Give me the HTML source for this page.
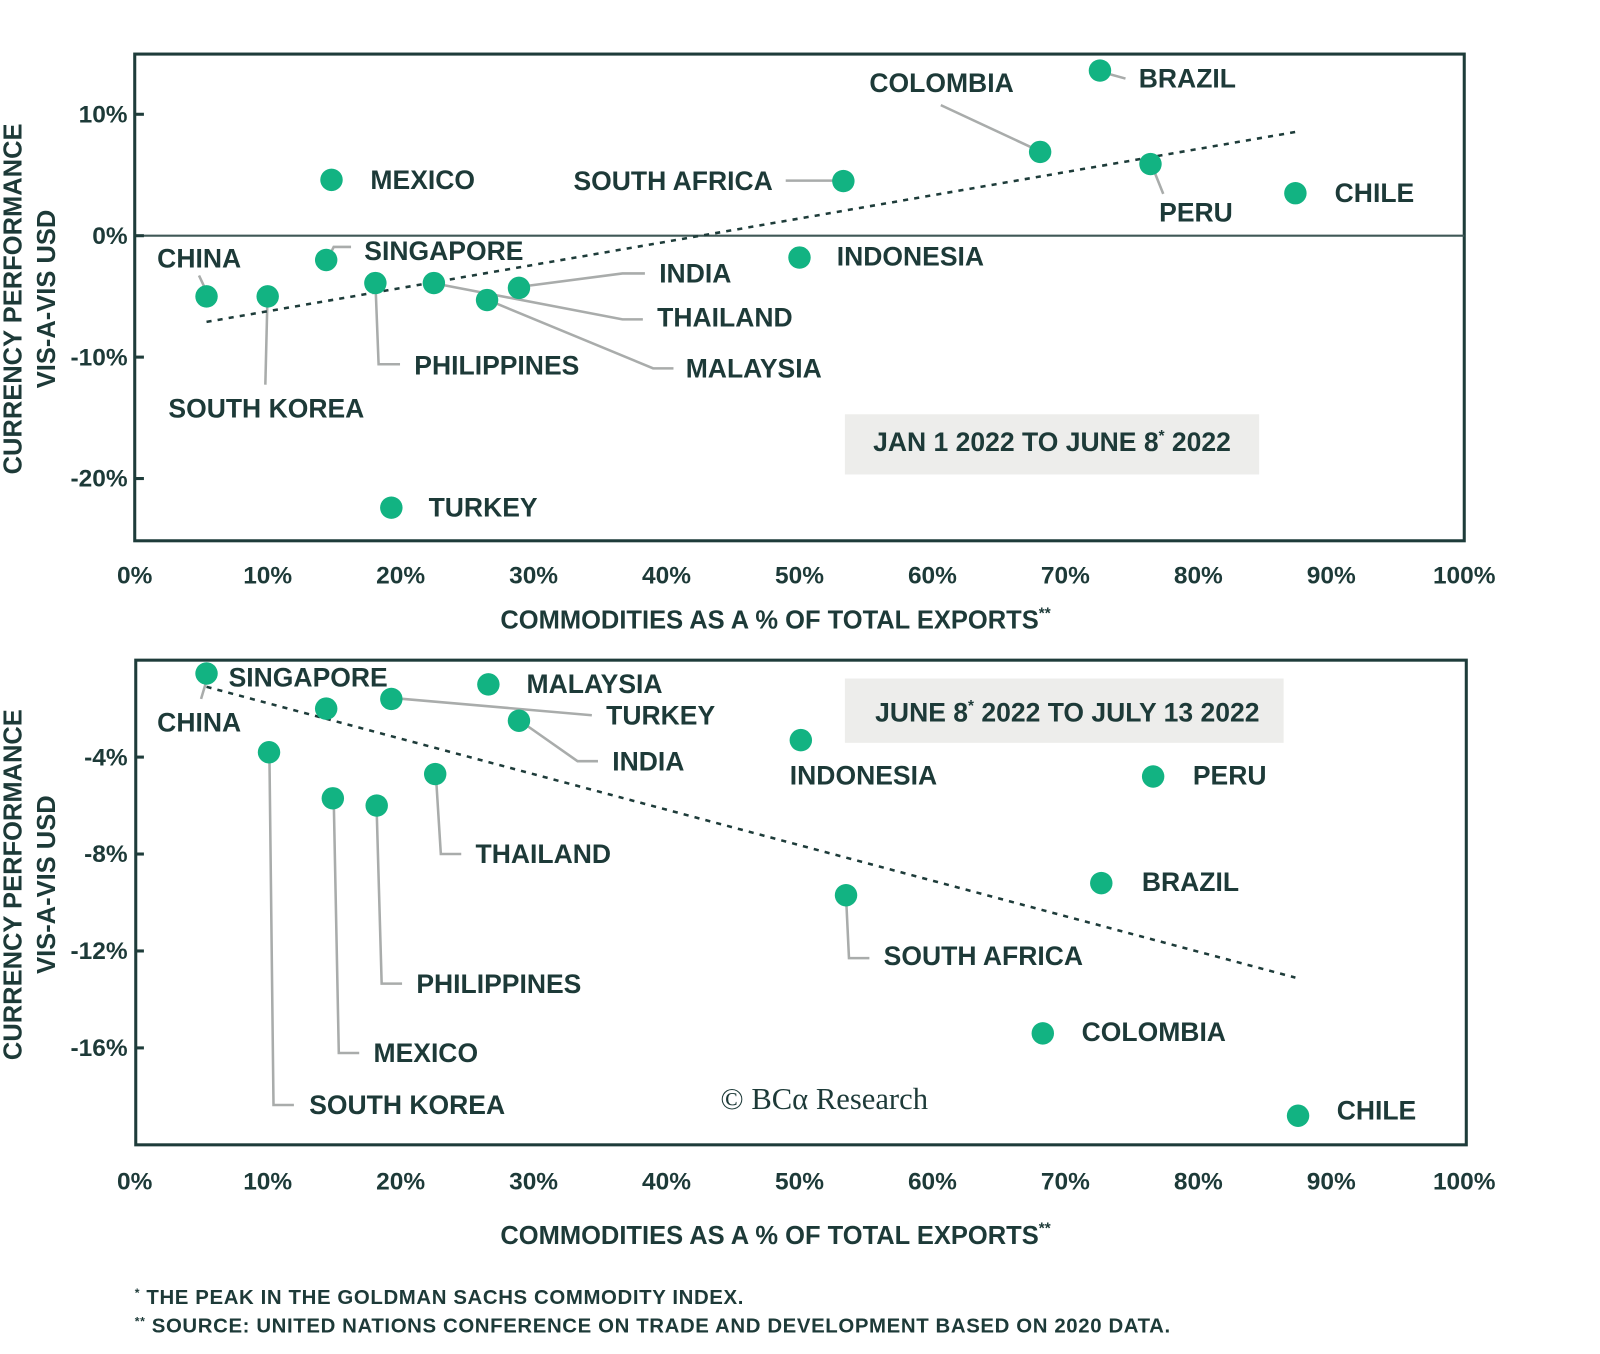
<!DOCTYPE html>
<html><head><meta charset="utf-8"><style>
html,body{margin:0;padding:0;background:#fff;}
svg{display:block}
text{font-family:"Liberation Sans",Arial,sans-serif;fill:#1d3a38;font-weight:bold}
.lbl{font-size:26px}
.tick{font-size:24px}
.ttl{font-size:25px}
.ldr{stroke:#a9acab;stroke-width:2.5;fill:none}
</style></head><body>
<svg id="chart" width="1600" height="1354" viewBox="0 0 1568 1327" xmlns="http://www.w3.org/2000/svg">
<g id="top">
 <rect x="132" y="53" width="1303" height="477" fill="none" stroke="#1e3c3a" stroke-width="3"/>
 <line x1="132" y1="231" x2="1435" y2="231" stroke="#3f5856" stroke-width="2"/>
 <rect x="828" y="406" width="406" height="59" fill="#ededeb"/>
 <text class="lbl" x="1031" y="442" text-anchor="middle">JAN 1 2022 TO JUNE 8<tspan font-size="15" dy="-10">*</tspan><tspan dy="10"> 2022</tspan></text>
 <g class="ldrs">
  <polyline class="ldr" points="922,103 1012,145"/>
  <polyline class="ldr" points="1085,72 1103,77"/>
  <polyline class="ldr" points="770,177 818,177"/>
  <polyline class="ldr" points="1130,165 1140,190"/>
  <polyline class="ldr" points="195,270 202,285"/>
  <polyline class="ldr" points="322,252 327,242 344,242"/>
  <polyline class="ldr" points="510,281 610,268 632,268"/>
  <polyline class="ldr" points="427,278 610,313 630,313"/>
  <polyline class="ldr" points="478,294 640,361 660,361"/>
  <polyline class="ldr" points="368,280 371,357 392,357"/>
  <polyline class="ldr" points="262,295 260,377"/>
 </g>
 <g>
  <text class="lbl" x="852" y="90">COLOMBIA</text>
  <text class="lbl" x="1116" y="86">BRAZIL</text>
  <text class="lbl" x="363" y="185">MEXICO</text>
  <text class="lbl" x="562" y="186">SOUTH AFRICA</text>
  <text class="lbl" x="1308" y="198">CHILE</text>
  <text class="lbl" x="1136" y="217">PERU</text>
  <text class="lbl" x="154" y="262">CHINA</text>
  <text class="lbl" x="357" y="255">SINGAPORE</text>
  <text class="lbl" x="646" y="277">INDIA</text>
  <text class="lbl" x="820" y="260">INDONESIA</text>
  <text class="lbl" x="644" y="320">THAILAND</text>
  <text class="lbl" x="672" y="370">MALAYSIA</text>
  <text class="lbl" x="406" y="367">PHILIPPINES</text>
  <text class="lbl" x="165" y="409">SOUTH KOREA</text>
  <text class="lbl" x="420" y="506">TURKEY</text>
 </g>
 <text class="ttl" x="760" y="616" text-anchor="middle">COMMODITIES AS A % OF TOTAL EXPORTS<tspan font-size="15" dy="-10">**</tspan></text>
 <text class="ttl" transform="translate(21,293) rotate(-90)" text-anchor="middle">CURRENCY PERFORMANCE</text>
 <text class="ttl" transform="translate(54,293) rotate(-90)" text-anchor="middle">VIS-A-VIS USD</text>
</g>
<g id="bot">
 <rect x="133" y="647" width="1304" height="475" fill="none" stroke="#1e3c3a" stroke-width="3"/>
 <rect x="828" y="665" width="430" height="63" fill="#ededeb"/>
 <text class="lbl" x="1046" y="707" text-anchor="middle">JUNE 8<tspan font-size="15" dy="-10">*</tspan><tspan dy="10"> 2022 TO JULY 13 2022</tspan></text>
 <g>
  <polyline class="ldr" points="203,665 197,685"/>
  <polyline class="ldr" points="384,684 580,701"/>
  <polyline class="ldr" points="509,706 566,746 586,746"/>
  <polyline class="ldr" points="427,757 432,837 452,837"/>
  <polyline class="ldr" points="829,876 832,939 852,939"/>
  <polyline class="ldr" points="369,790 374,964 394,964"/>
  <polyline class="ldr" points="327,782 332,1032 352,1032"/>
  <polyline class="ldr" points="264,740 268,1083 288,1083"/>
 </g>
 <g>
  <text class="lbl" x="224" y="673">SINGAPORE</text>
  <text class="lbl" x="154" y="717">CHINA</text>
  <text class="lbl" x="516" y="679">MALAYSIA</text>
  <text class="lbl" x="594" y="710">TURKEY</text>
  <text class="lbl" x="600" y="755">INDIA</text>
  <text class="lbl" x="774" y="769">INDONESIA</text>
  <text class="lbl" x="1169" y="769">PERU</text>
  <text class="lbl" x="466" y="846">THAILAND</text>
  <text class="lbl" x="1119" y="873">BRAZIL</text>
  <text class="lbl" x="866" y="946">SOUTH AFRICA</text>
  <text class="lbl" x="408" y="973">PHILIPPINES</text>
  <text class="lbl" x="1060" y="1020">COLOMBIA</text>
  <text class="lbl" x="366" y="1041">MEXICO</text>
  <text class="lbl" x="303" y="1092">SOUTH KOREA</text>
  <text class="lbl" x="1310" y="1097">CHILE</text>
 </g>
 <text x="706" y="1087" style="font-family:'Liberation Serif',serif;font-weight:normal;font-size:30px">© BCα Research</text>
 <text class="ttl" x="760" y="1219" text-anchor="middle">COMMODITIES AS A % OF TOTAL EXPORTS<tspan font-size="15" dy="-10">**</tspan></text>
 <text class="ttl" transform="translate(21,867) rotate(-90)" text-anchor="middle">CURRENCY PERFORMANCE</text>
 <text class="ttl" transform="translate(54,867) rotate(-90)" text-anchor="middle">VIS-A-VIS USD</text>
</g>
<text x="132" y="1278" style="font-size:20px;letter-spacing:0.6px"><tspan font-size="12" dy="-7">*</tspan><tspan dy="7"> THE PEAK IN THE GOLDMAN SACHS COMMODITY INDEX.</tspan></text>
<text x="132" y="1306" style="font-size:20px;letter-spacing:0.6px"><tspan font-size="12" dy="-7">**</tspan><tspan dy="7"> SOURCE: UNITED NATIONS CONFERENCE ON TRADE AND DEVELOPMENT BASED ON 2020 DATA.</tspan></text>
</svg>
<script>
const countries=["China","South Korea","Singapore","Mexico","Philippines","Thailand","Malaysia","India","Turkey","South Africa","Indonesia","Colombia","Brazil","Peru","Chile"];
const commodityShare=[5.4,10.0,14.4,14.8,18.1,22.5,26.5,28.9,19.3,53.3,50.0,68.1,72.6,76.4,87.3];
const perfPeriod1=[-5.0,-5.0,-2.0,4.6,-3.9,-3.9,-5.3,-4.3,-22.4,4.5,-1.8,6.9,13.6,5.9,3.5];
const shareP2=[5.4,10.1,14.4,14.9,18.2,22.6,26.6,28.9,19.3,53.5,50.1,68.3,72.7,76.6,87.5];
const perfPeriod2=[-0.55,-3.8,-2.0,-5.7,-6.0,-4.7,-1.0,-2.5,-1.6,-9.7,-3.3,-15.4,-9.2,-4.8,-18.8];
const trend1X=[5.4,87.6], trend1Y=[-7.1,8.6];
const trend2X=[5.4,87.3], trend2Y=[-1.1,-13.1];
const xTicks=[0,10,20,30,40,50,60,70,80,90,100];
const yTicks1=[10,0,-10,-20];
const yTicks2=[-4,-8,-12,-16];
const NS="http://www.w3.org/2000/svg";
function mk(tag,parent,attrs){const e=document.createElementNS(NS,tag);for(const k in attrs)e.setAttribute(k,attrs[k]);parent.appendChild(e);return e;}
const xs=v=>132+v*13.03;
const y1=v=>231-v*11.9;
const ys2=v=>647+(-v)*23.75;
function panel(gid,xVals,yVals,ys,tx,ty,yt,xLabY,prefix){
 const g=document.getElementById(gid);
 const tl=mk('line',g,{x1:xs(tx[0]),y1:ys(ty[0]),x2:xs(tx[1]),y2:ys(ty[1]),stroke:'#1e3c3a','stroke-width':2.5,'stroke-dasharray':'5,6'});
 
 
 yt.forEach(v=>{
  const t=mk('line',g,{x1:132,x2:141,y1:ys(v),y2:ys(v),stroke:'#1e3c3a','stroke-width':3});
  
  
  const l=mk('text',g,{x:125,y:ys(v)+8,'text-anchor':'end',class:'tick'});
  l.textContent=v+'%';
  
  
 });
 xTicks.forEach(v=>{
  const l=mk('text',g,{x:xs(v),y:xLabY,'text-anchor':'middle',class:'tick'});
  l.textContent=v+'%';
  
  
 });
 xVals.forEach((v,i)=>{
  const c=mk('circle',g,{cx:xs(v),cy:ys(yVals[i]),r:11,fill:'#12b382'});
  
  
 });
}
panel('top',commodityShare,perfPeriod1,y1,trend1X,trend1Y,yTicks1,572,'top');
panel('bot',shareP2,perfPeriod2,ys2,trend2X,trend2Y,yTicks2,1166,'bottom');
</script>
</body></html>
